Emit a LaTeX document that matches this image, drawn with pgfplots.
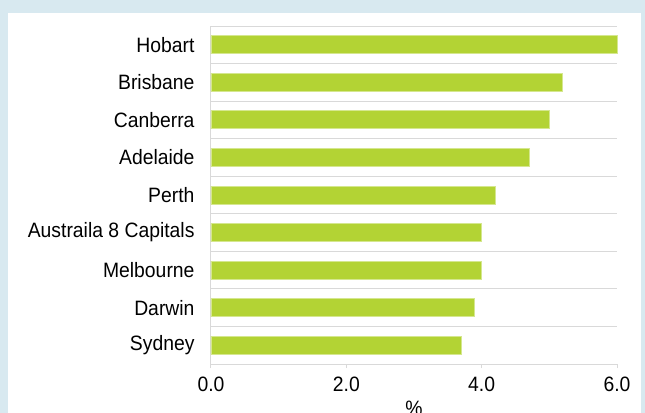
\documentclass[border=0pt]{standalone}
\usepackage{fontspec}
\setmainfont{Liberation Sans}[FakeStretch=0.93]
\usepackage{pgfplots}
\pgfplotsset{compat=1.18}
\definecolor{bargreen}{HTML}{B3D334}
\definecolor{bgblue}{HTML}{D8E9F0}
\definecolor{gridgray}{HTML}{D9D9D9}
\begin{document}
\begin{tikzpicture}[font=\fontsize{20.8bp}{24bp}\selectfont]
\fill[bgblue] (-211bp,-49bp) rectangle (434bp,364bp);
\fill[white] (-203bp,-49bp) rectangle (430bp,351bp);
\begin{axis}[
  at={(0,0)}, anchor=south west,
  scale only axis, width=406bp, height=338bp,
  xmin=0, xmax=6, ymin=-0.5, ymax=8.5,
  xbar, bar width=18bp,
  ytick={0,...,8},
  yticklabels={Sydney,Darwin,Melbourne,Austraila 8 Capitals,Perth,Adelaide,Canberra,Brisbane,Hobart},
  xtick={0,2,4,6},
  minor ytick={-0.5,0.5,...,8.5},
  yminorgrids,
  minor grid style={gridgray, line width=1bp},
  axis x line*=bottom, axis y line*=left,
  axis line style={gridgray, line width=1bp, -},
  tick align=outside,
  major tick length=4bp, minor tick length=4bp,
  ytick style={draw=none},
  minor y tick style={gridgray, line width=1bp},
  x tick style={gridgray, line width=1bp},
  xticklabel style={yshift=-5bp, /pgf/number format/.cd, fixed, fixed zerofill, precision=1, assume math mode=true},
  yticklabel style={xshift=-9bp},
  xlabel={\%},
  xlabel style={yshift=-3bp},
  clip=false,
]
\addplot[fill=bargreen, draw=bargreen!55!white, line width=0.8bp] coordinates {(3.7,0) (3.9,1) (4.0,2) (4.0,3) (4.2,4) (4.7,5) (5.0,6) (5.2,7) (6.0,8)};
\end{axis}
\pgfresetboundingbox
\useasboundingbox (-211bp,-49bp) rectangle (434bp,364bp);
\end{tikzpicture}
\end{document}
